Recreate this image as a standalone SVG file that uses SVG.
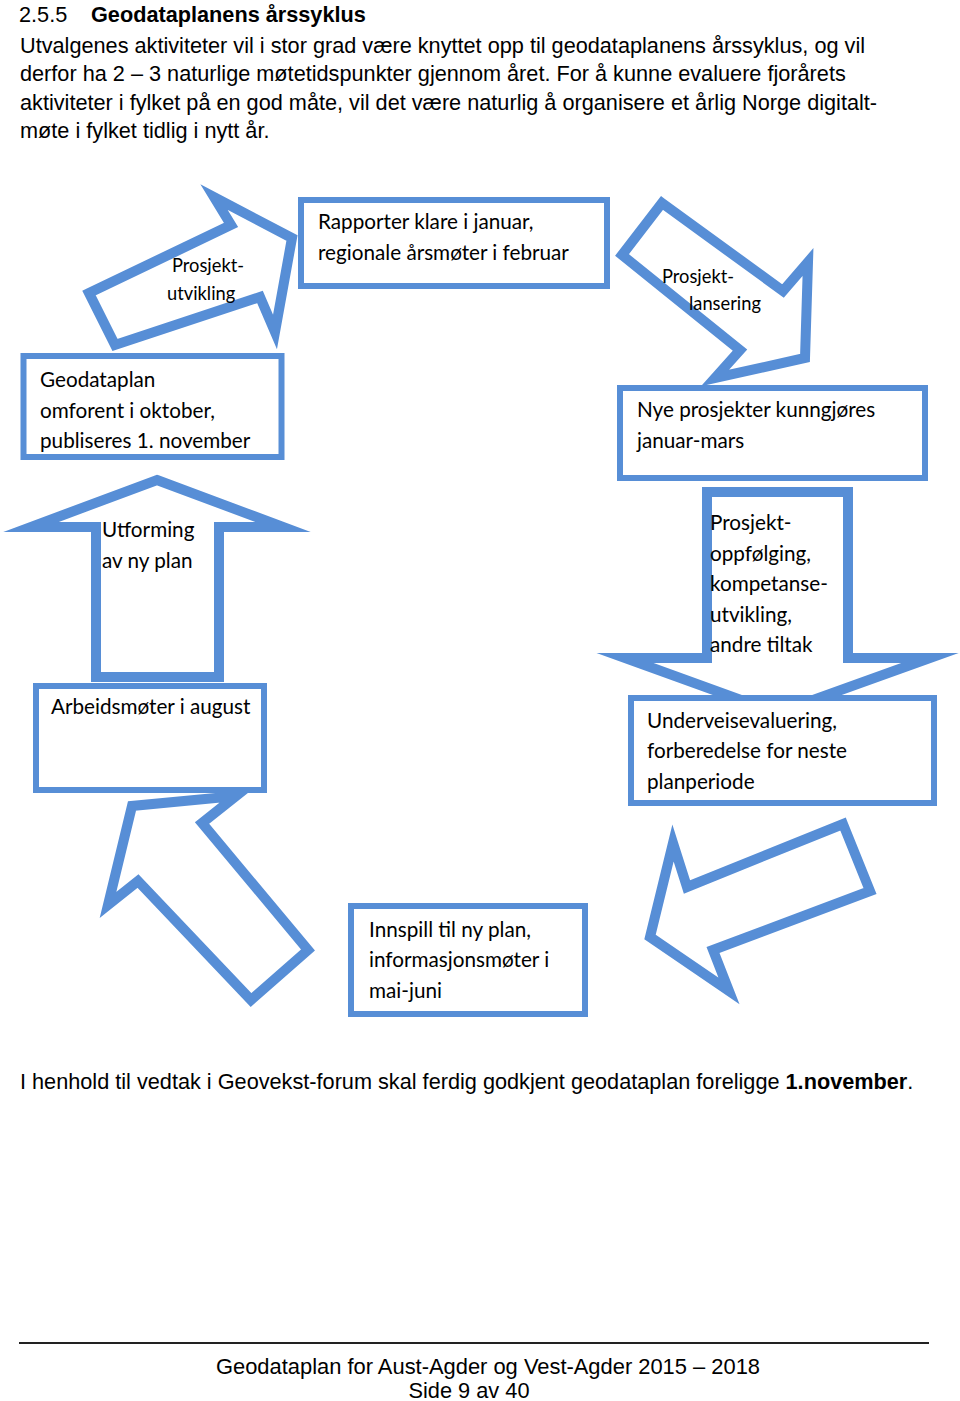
<svg xmlns="http://www.w3.org/2000/svg" width="960" height="1401" viewBox="0 0 960 1401">
<style>
.body{font-family:"Liberation Sans",Arial,sans-serif;font-size:21.7px;fill:#000}
.arrow{fill:#fff;stroke:#578ed6;stroke-width:10;stroke-linejoin:miter;stroke-miterlimit:12}
.box rect{fill:#fff;stroke:#578ed6;stroke-width:6}
.lbl{font-family:Lato,"Open Sans",sans-serif;font-size:20.7px;fill:#000}
.small{font-family:Lato,"Open Sans",sans-serif;font-size:18.3px;fill:#000}
</style>
<rect width="960" height="1401" fill="#fff"/>
<g id="heading">
<text class="body" x="19" y="22" font-size="26">2.5.5</text>
<text class="body" x="91" y="22" font-size="26" font-weight="bold">Geodataplanens årssyklus</text>
<text class="body" x="20" y="53">Utvalgenes aktiviteter vil i stor grad være knyttet opp til geodataplanens årssyklus, og vil</text>
<text class="body" x="20" y="81">derfor ha 2 – 3 naturlige møtetidspunkter gjennom året. For å kunne evaluere fjorårets</text>
<text class="body" x="20" y="110">aktiviteter i fylket på en god måte, vil det være naturlig å organisere et årlig Norge digitalt-</text>
<text class="body" x="20" y="138">møte i fylket tidlig i nytt år.</text>
</g>
<g id="connectors">
<g id="arrow-prosjektutvikling">
<polygon class="arrow" points="89,293 231,225 214,197 292,238 275,332 260,297 115,345"/>
<text class="small" x="172" y="272">Prosjekt-</text>
<text class="small" x="167" y="300">utvikling</text>
</g>
<g id="arrow-prosjektlansering">
<polygon class="arrow" points="662,203 783,291 808,262 805,358 715,378 740,350 622,255"/>
<text class="small" x="662" y="283">Prosjekt-</text>
<text class="small" x="689" y="310">lansering</text>
</g>
<g id="arrow-prosjektoppfolging">
<polygon class="arrow" points="707,492 848,492 848,658 930,658 777,713 625,658 707,658"/>
</g>
<g id="arrow-lower-right">
<polygon class="arrow" points="843,824 870,891 713,950 729,991 650,937 673,843 687,887"/>
</g>
<g id="arrow-lower-left">
<polygon class="arrow" points="308,950 251,1000 138,881 108,905 132,806 236,796 202,823"/>
</g>
<g id="arrow-utforming">
<polygon class="arrow" points="157,480 283,527 219,527 219,677 96,677 96,527 31,527"/>
<text class="lbl" x="102" y="537">Utforming</text>
<text class="lbl" x="102" y="568">av ny plan</text>
</g>
</g>
<g id="node-rapporter" class="box">
<rect x="301" y="200" width="306" height="86"/>
<text class="lbl" x="318" y="229">Rapporter klare i januar,</text>
<text class="lbl" x="318" y="260">regionale årsmøter i februar</text>
</g>
<g id="node-geodataplan" class="box">
<rect x="23.5" y="356" width="258" height="101"/>
<text class="lbl" x="40" y="387">Geodataplan</text>
<text class="lbl" x="40" y="418">omforent i oktober,</text>
<text class="lbl" x="40" y="448">publiseres 1. november</text>
</g>
<g id="node-nye" class="box">
<rect x="620" y="388" width="305" height="90"/>
<text class="lbl" x="637" y="417">Nye prosjekter kunngjøres</text>
<text class="lbl" x="637" y="448">januar-mars</text>
</g>
<g id="node-oppfolging-label">
<text class="lbl" x="710" y="530">Prosjekt-</text>
<text class="lbl" x="710" y="561">oppfølging,</text>
<text class="lbl" x="710" y="591">kompetanse-</text>
<text class="lbl" x="710" y="622">utvikling,</text>
<text class="lbl" x="710" y="652">andre tiltak</text>
</g>
<g id="node-arbeidsmoter" class="box">
<rect x="36" y="686" width="228" height="104"/>
<text class="lbl" x="51" y="714">Arbeidsmøter i august</text>
</g>
<g id="node-underveis" class="box">
<rect x="631" y="698" width="303" height="105"/>
<text class="lbl" x="647" y="728">Underveisevaluering,</text>
<text class="lbl" x="647" y="758">forberedelse for neste</text>
<text class="lbl" x="647" y="789">planperiode</text>
</g>
<g id="node-innspill" class="box">
<rect x="351" y="906" width="234" height="108"/>
<text class="lbl" x="369" y="937">Innspill til ny plan,</text>
<text class="lbl" x="369" y="967">informasjonsmøter i</text>
<text class="lbl" x="369" y="998">mai-juni</text>
</g>
<g id="footnote">
<text class="body" x="20" y="1089">I henhold til vedtak i Geovekst-forum skal ferdig godkjent geodataplan foreligge <tspan font-weight="bold">1.november</tspan>.</text>
</g>
<g id="footer">
<line x1="19" y1="1343" x2="929" y2="1343" stroke="#222" stroke-width="2"/>
<text class="body" x="488" y="1374" font-size="19" text-anchor="middle" textLength="544" lengthAdjust="spacingAndGlyphs">Geodataplan for Aust-Agder og Vest-Agder 2015 – 2018</text>
<text class="body" x="469" y="1398" font-size="19" text-anchor="middle" textLength="121" lengthAdjust="spacingAndGlyphs">Side 9 av 40</text>
</g>
</svg>
